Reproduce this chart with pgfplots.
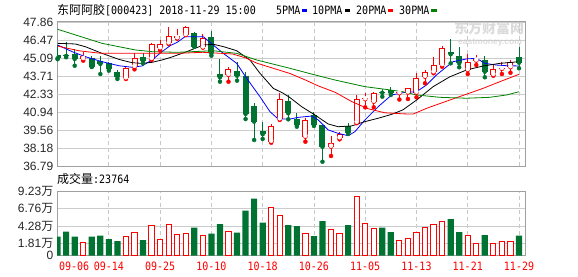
\documentclass[border=0pt]{standalone}
\usepackage{pgfplots}
\pgfplotsset{compat=1.18}
\usepackage{pgfplotstable}
\usepackage{fontspec}
\setmainfont{Liberation Sans}
\newfontfamily\cjk{Noto Sans CJK SC}
\newfontfamily\mono[FakeStretch=0.87]{DejaVu Sans Mono}
\definecolor{kgreen}{RGB}{0,115,50}
\definecolor{kred}{RGB}{255,0,0}
\definecolor{gridc}{RGB}{204,204,204}
\definecolor{gridd}{RGB}{150,150,150}
\definecolor{vgrid}{RGB}{200,200,200}
\definecolor{border}{RGB}{160,160,160}
\definecolor{ma5}{RGB}{0,0,255}
\definecolor{ma30}{RGB}{0,128,0}

\pgfplotstableread{
i open high low close
1 45.32 46.09 45.00 45.07
2 45.27 46.30 45.15 45.25
3 45.38 45.76 44.50 45.02
5 45.07 45.25 44.40 44.42
6 44.89 45.25 43.86 44.63
7 44.68 44.81 44.12 44.25
8 44.04 44.17 43.48 43.65
11 45.19 45.45 44.68 44.89
17 47.04 47.11 45.96 45.96
19 46.73 47.17 45.27 45.45
20 43.86 45.00 43.27 43.61
22 44.09 44.81 43.35 43.73
23 43.71 44.04 40.40 40.79
24 41.40 41.61 38.79 40.20
25 39.48 40.20 38.87 39.23
28 41.79 42.25 40.38 40.84
29 40.38 40.84 39.81 39.94
31 40.71 40.97 39.87 39.94
32 39.94 39.94 37.12 38.27
35 39.87 40.12 39.25 39.35
39 42.45 42.69 42.12 42.42
40 42.63 42.89 42.25 42.38
47 45.58 46.55 44.68 45.38
48 45.25 45.96 44.38 44.68
51 44.94 45.27 43.61 44.04
55 45.19 45.92 44.30 44.73
}\greenK

\pgfplotstableread{
i open high low close
4 45.02 45.58 44.89 45.25
9 43.53 44.42 43.48 44.30
10 44.42 45.45 44.22 45.07
12 45.02 46.27 44.94 46.17
13 45.84 46.48 45.65 46.17
14 46.22 47.50 46.17 46.78
15 46.61 47.32 46.58 46.78
16 46.86 47.58 46.86 47.50
18 45.90 46.91 45.90 46.61
21 43.79 44.42 43.27 44.22
26 38.66 40.02 38.58 39.89
27 40.38 42.43 40.33 41.92
30 39.04 40.46 38.66 40.33
33 38.27 39.10 37.56 38.53
34 38.92 39.43 38.84 39.25
36 40.12 42.25 40.08 41.92
37 41.92 42.38 41.30 42.04
38 41.73 42.50 41.30 42.43
41 42.38 42.50 41.90 42.45
42 42.43 42.76 41.94 42.76
43 42.43 43.92 42.07 43.53
44 43.65 44.17 43.15 44.04
45 43.99 45.15 43.92 44.55
46 44.55 46.04 44.42 45.84
49 44.17 45.40 43.86 44.76
50 44.89 45.32 44.55 45.02
52 43.79 44.55 43.73 44.22
53 44.25 44.81 43.86 44.35
54 44.38 44.94 43.96 44.81
}\redK

\pgfplotstableread{
i v
1 2.74
2 3.46
3 2.74
5 2.74
6 2.88
7 2.40
8 2.12
11 2.26
17 4.04
19 3.17
20 4.57
22 3.32
23 6.49
24 8.22
25 4.76
28 4.42
29 4.28
31 2.84
32 5.00
35 4.42
39 4.04
40 3.41
47 5.29
48 3.41
51 2.98
55 2.88
}\greenV

\pgfplotstableread{
i v
4 1.92
9 2.84
10 3.37
12 4.42
13 2.40
14 4.52
15 3.08
16 3.22
18 2.98
21 3.56
26 6.97
27 5.86
30 3.22
33 3.85
34 3.22
36 8.61
37 4.66
38 3.94
41 2.21
42 2.55
43 3.41
44 4.13
45 4.52
46 4.95
49 2.98
50 1.78
52 1.78
53 2.12
54 2.12
}\redV

\pgfplotsset{
  kaxis/.style={
    scale only axis, width=468pt,
    xmin=0.93, xmax=55.7,
    axis line style={draw=border, line width=1pt},
    major tick length=0pt,
    xtick={1,7,...,55},
    xmajorgrids, ymajorgrids,
    x grid style={vgrid, dash pattern=on 4pt off 3pt, line width=0.8pt},
    y grid style={gridc, line width=0.8pt},
    tick label style={font=\fontsize{12}{12}\selectfont, text=black!85},
    yticklabel style={anchor=east, inner sep=0pt, xshift=-3.5pt},
    /pgf/number format/assume math mode=true,
  },
  wick/.style={only marks, mark=none, forget plot,
    error bars/.cd, y dir=plus, y explicit, error mark=none,
    error bar style={line width=1pt}},
  body/.style={only marks, mark=none, forget plot,
    error bars/.cd, y dir=plus, y explicit, error mark=none,
    error bar style={line width=#1}},
}

\begin{document}
\begin{tikzpicture}[x=1pt,y=1pt]
\useasboundingbox (0,0) rectangle (578,276);

% watermark
\node[text=black!14, font=\cjk\bfseries\fontsize{14}{14}\selectfont, inner sep=0] at (489,248) {东方财富网};
\node[text=black!14, font=\bfseries\fontsize{8.5}{8.5}\selectfont, inner sep=0] at (490,233.5) {eastmoney.com};

% price panel
\begin{axis}[kaxis, at={(57pt,110pt)}, anchor=south west, height=144pt,
  ymin=36.79, ymax=47.86,
  ytick={36.79,38.18,39.56,40.94,43.71,45.09,46.47,47.86},
  yticklabels={36.79,38.18,39.56,40.94,43.71,45.09,46.47,47.86},
  extra y ticks={42.33}, extra y tick labels={42.33},
  extra y tick style={grid style={gridd, line width=0.8pt}},
  xticklabels={}]
\addplot[kgreen, wick] table[x=i, y=low, y error plus expr=\thisrow{high}-\thisrow{low}] {\greenK};
\addplot[kgreen, body=6pt] table[x=i, y=close, y error plus expr={max(\thisrow{open}-\thisrow{close},0.08)}] {\greenK};
\addplot[kred, wick] table[x=i, y=low, y error plus expr=\thisrow{high}-\thisrow{low}] {\redK};
\addplot[kred, body=6pt] table[x=i, y=open, y error plus expr={max(\thisrow{close}-\thisrow{open},0.08)}] {\redK};
\addplot[white, body=4pt] table[x=i, y expr=\thisrow{open}+0.077, y error plus expr={max(\thisrow{close}-\thisrow{open}-0.154,0)}] {\redK};

% MA lines
\addplot[ma5, line width=0.8pt] coordinates {(1,46.09) (2.7,45.58) (4.25,45.19) (6.2,44.81) (8.16,44.50) (9.71,44.38) (10.88,44.48) (12.05,44.94) (13.22,45.58) (14.2,46.05) (15,46.3) (15.91,46.73) (18.05,46.73) (19.22,46.09) (20.39,45.45) (21.96,44.68) (23.13,43.53) (24.68,42.12) (25.85,40.97) (26.82,40.40) (28.19,40.40) (29.16,40.53) (30.73,40.63) (31.5,40.33) (32.67,39.56) (33.84,39.30) (35.01,39.12) (35.8,39.43) (36.96,40.33) (38.52,41.35) (40.09,42.25) (41.64,42.45) (43.01,42.50) (44.18,43.02) (45.35,43.79) (46.52,44.42) (47.29,44.81) (48.86,45.02) (50.03,45.07) (51.01,44.68) (52.37,44.55) (53.54,44.50) (55,44.48)};
\addplot[black, line width=0.8pt] coordinates {(1,46.22) (3.08,46.17) (4.25,45.96) (6.2,45.45) (8.16,44.99) (9.71,44.73) (10.88,44.68) (12.05,44.76) (13.22,44.94) (14.3,45.15) (16.11,45.58) (18.05,46.09) (19.22,46.15) (20.5,45.95) (21.96,45.65) (23.51,44.94) (24.68,43.92) (26.24,42.76) (27.41,42.38) (28.19,42.05) (29.56,41.35) (31.12,40.71) (32.67,40.02) (33.84,39.81) (35.41,39.87) (36.96,40.20) (38.52,40.46) (40.09,40.76) (41.4,41.1) (43.01,41.86) (44.95,42.89) (46.91,43.65) (48.86,44.17) (50.81,44.48) (52.75,44.68) (55,44.81)};
\addplot[kred, line width=0.8pt] coordinates {(1,46.01) (3.48,45.65) (5.42,45.50) (6.2,45.45) (15,45.45) (18,45.53) (21.5,45.40) (23,45.1) (24.3,44.7) (26,44.35) (28.2,43.9) (30,43.4) (31.5,42.95) (33.5,42.45) (35.4,41.75) (37.3,41.2) (39.3,40.88) (41.5,40.8) (42.6,40.78) (44.2,41.23) (46.9,41.86) (48.9,42.32) (50.8,42.76) (52.75,43.27) (55,43.84)};
\addplot[ma30, line width=0.8pt] coordinates {(1,47.30) (6.2,46.22) (10.1,45.71) (12.05,45.58) (14.98,45.53) (19.22,45.65) (21.96,45.45) (24.3,44.94) (28.19,44.30) (31.12,43.79) (33.46,43.40) (36.96,42.89) (39.3,42.69) (41.4,42.5) (43.01,42.25) (45.74,42.07) (48.86,42.0) (51.58,42.07) (53.54,42.25) (55,42.50)};
\end{axis}

% volume panel
\begin{axis}[kaxis, at={(57pt,20.3pt)}, anchor=south west, height=64pt,
  ymin=0, ymax=9.23,
  ytick={0,1.81,4.28,6.76,9.23},
  yticklabels={0,1.81{\cjk 万},4.28{\cjk 万},6.76{\cjk 万},9.23{\cjk 万}},
  xticklabels={,09-14,09-25,10-10,10-18,10-26,11-05,11-13,11-21,11-29},
  xticklabel style={font=\mono\fontsize{11.5}{12}\selectfont, text=kred, anchor=north, inner sep=0pt, yshift=-6.3pt},
  extra x ticks={2.93}, extra x tick labels={09-06},
  extra x tick style={grid=none}]
\addplot[ybar, bar width=6.2pt, bar shift=0pt, fill=kgreen, draw=none] table[x=i, y=v] {\greenV};
\addplot[ybar, bar width=5.2pt, bar shift=0pt, fill=white, draw=kred, line width=1pt] table[x=i, y=v] {\redV};
\end{axis}

% header texts
\node[anchor=base west, inner sep=0] at (57,261.7) {{\cjk\fontsize{12}{12}\selectfont 东阿阿胶}{\mono\fontsize{11.5}{12}\selectfont [000423] 2018-11-29 15:00}};
\node[anchor=base west, inner sep=0, font=\mono\fontsize{11.5}{12}\selectfont] at (276,261.7) {5PMA};
\fill[ma5] (302.3,264) rectangle (307.3,266.7);
\node[anchor=base west, inner sep=0, font=\mono\fontsize{11.5}{12}\selectfont] at (312,261.7) {10PMA};
\fill[black] (345,264) rectangle (350,266.7);
\node[anchor=base west, inner sep=0, font=\mono\fontsize{11.5}{12}\selectfont] at (356,261.7) {20PMA};
\fill[kred] (388.3,264) rectangle (393.3,266.7);
\node[anchor=base west, inner sep=0, font=\mono\fontsize{11.5}{12}\selectfont] at (399,261.7) {30PMA};
\fill[ma30] (431,264) rectangle (436.7,266.7);
\node[anchor=base west, inner sep=0] at (57,92.5) {{\cjk\fontsize{12}{12}\selectfont 成交量}{\mono\fontsize{11.5}{12}\selectfont :23764}};
\end{tikzpicture}
\end{document}
